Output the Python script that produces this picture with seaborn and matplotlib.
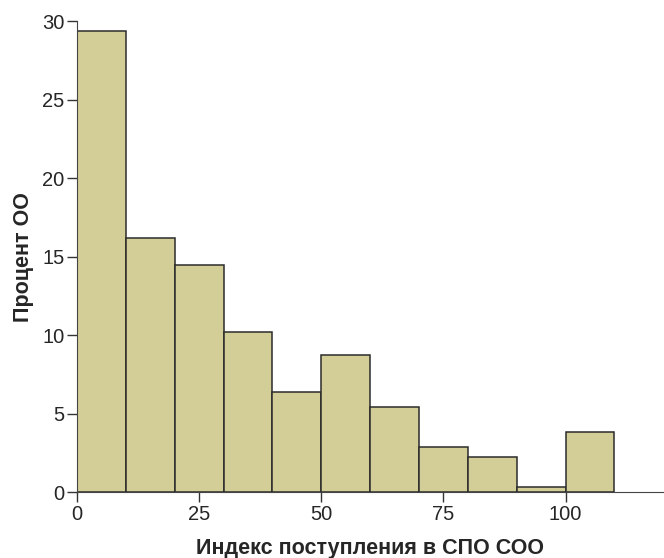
import numpy as np
import matplotlib
matplotlib.use("Agg")
import matplotlib.pyplot as plt
import seaborn as sns

# bins of the histogram (width 10) and percent of schools in each bin
bin_edges = [0, 10, 20, 30, 40, 50, 60, 70, 80, 90, 100, 110]
percent = [29.4, 16.2, 14.45, 10.2, 6.4, 8.75, 5.45, 2.9, 2.25, 0.35, 3.85]
x_ticks = [0, 25, 50, 75, 100]
y_ticks = [0, 5, 10, 15, 20, 25, 30]

centers = [(a + b) / 2 for a, b in zip(bin_edges[:-1], bin_edges[1:])]

sns.set_style("ticks")
plt.rcParams["font.family"] = ["Liberation Sans", "DejaVu Sans"]

fig = plt.figure(figsize=(6.64, 5.58), dpi=100)
ax = fig.add_axes([0.116, 0.118, 0.883, 0.844])

sns.histplot(x=centers, weights=percent, bins=bin_edges, ax=ax,
             color="#D3CE98", alpha=1, edgecolor="#2b2b2b", linewidth=1.1)

ax.set_xlim(0, 120)
ax.set_ylim(0, 30)
ax.set_xticks(x_ticks)
ax.set_yticks(y_ticks)
ax.tick_params(labelsize=14.5, length=7, width=1, color="#333333", pad=2)

sns.despine(ax=ax)
ax.spines["left"].set_color("#444444")
ax.spines["bottom"].set_color("#444444")

ax.set_xlabel("Индекс поступления в СПО СОО", fontsize=15.5, fontweight="bold", labelpad=10)
ax.set_ylabel("Процент ОО", fontsize=15.5, fontweight="bold", labelpad=6)

fig.savefig("out.png", dpi=100)
